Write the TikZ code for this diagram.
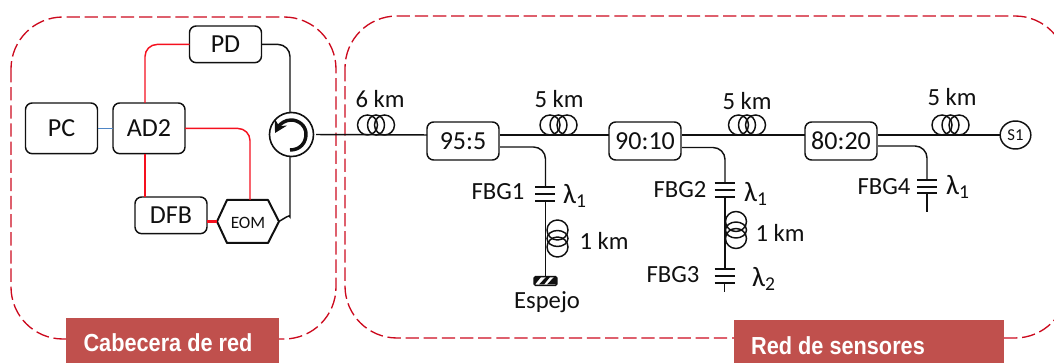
\documentclass[tikz,border=0pt]{standalone}
\usepackage{fontspec}
\setmainfont{Carlito}
\newfontfamily\labfont[FakeStretch=0.88]{Liberation Sans}
\usetikzlibrary{arrows.meta,shapes.geometric}
\definecolor{dashred}{HTML}{CC0A1E}
\definecolor{wirered}{HTML}{F5101E}
\definecolor{wireblue}{HTML}{4F86C6}
\definecolor{labelred}{HTML}{C0504D}
\definecolor{ink}{HTML}{101010}
\tikzset{
  x=0.75pt,y=-0.75pt,
  every node/.style={text=ink,inner sep=0pt,outer sep=0pt},
  devbox/.style={draw=ink,fill=white,line width=1.1pt,rounded corners=5pt,font=\fontsize{19.5}{22}\selectfont,anchor=north west},
  zone/.style={draw=dashred,line width=1pt,dash pattern=on 10pt off 3.6pt,rounded corners=39pt},
  zonelabel/.style={fill=labelred,draw=none},
  labeltext/.style={text=white,font=\labfont\bfseries\fontsize{18.5}{20}\selectfont},
  wire/.style={draw=ink,line width=1.1pt,rounded corners=9pt},
  rfwire/.style={draw=wirered,line width=1.1pt,rounded corners=9pt},
  rfthick/.style={draw=wirered,line width=1.9pt},
  lan/.style={draw=wireblue,line width=1.1pt},
  txt/.style={font=\fontsize{18.5}{21}\selectfont},
  lam/.style={font=\fontsize{21}{24}\selectfont},
  grating/.style={draw=ink,line width=1.1pt},
  coil/.style={draw=ink,line width=1.1pt},
}
\newcommand{\hcoil}[1]{%
  \draw[coil] (#1-8.5,125) ellipse (10 and 10);
  \draw[coil] (#1,125) ellipse (8.5 and 10);
  \draw[coil] (#1+8.5,125) ellipse (10 and 10);}
\newcommand{\vcoil}[2]{%
  \draw[coil] (#1,#2-8.5) ellipse (10.5 and 10);
  \draw[coil] (#1,#2) ellipse (10.5 and 8);
  \draw[coil] (#1,#2+8.5) ellipse (10.5 and 10);}
\newcommand{\fbg}[4]{%
  \draw[grating] (#1-10,#2) -- (#1+10,#2);
  \draw[grating] (#1-10,#3) -- (#1+10,#3);
  \draw[grating] (#1-10,#4) -- (#1+10,#4);}
\begin{document}
\begin{tikzpicture}
\useasboundingbox (0,0) rectangle (1054,363);
% zones
\draw[zone] (11,17) rectangle (336,339);
\draw[zone] (345,16) rectangle (1067,338);
\fill[zonelabel] (66,318) rectangle (279,363);
\fill[zonelabel] (734,320) rectangle (1004,363);
\node[labeltext] (lab1) at (168,343) {Cabecera de red};
\node[labeltext] (lab2) at (838,346) {Red de sensores};
% devices
\node[devbox,minimum width=54pt,minimum height=27.5pt] (PD) at (189.5,26) {PD};
\node[devbox,minimum width=54pt,minimum height=38pt] (PC) at (25.5,103) {PC};
\node[devbox,minimum width=54pt,minimum height=38pt] (AD) at (113,103) {AD2};
\node[devbox,minimum width=54pt,minimum height=27.5pt] (DFB) at (135,197) {DFB};
\node[draw=ink,fill=white,line width=1.2pt,circle,minimum size=33pt] (circ) at (291.5,134.5) {};
\draw[line width=2.6pt,draw=ink,-{Stealth[length=9pt,width=10pt]}]
  (290,150) .. controls (300,150) and (306,143) .. (306,134)
  .. controls (306,126) and (299,120) .. (291,120)
  .. controls (285,120) and (280,124) .. (275,133);
\coordinate (eomtop) at (250,200);
\coordinate (eomleft) at (217,221.5);
\coordinate (eomright) at (279,221.5);
\coordinate (dfbout) at (207,221.5);
\draw[draw=ink,fill=white,line width=1.5pt,line join=round] (eomleft) -- (227,200) -- (268,200) -- (eomright) -- (268,243) -- (227,243) -- cycle;
\node[font=\fontsize{13}{15}\selectfont] (EOM) at (248,222.5) {EOM};
% couplers
\node[devbox,minimum width=54pt,minimum height=28.5pt] (c95) at (427,122) {95:5};
\node[devbox,minimum width=54pt,minimum height=28.5pt] (c90) at (609,122) {90:10};
\node[devbox,minimum width=54pt,minimum height=28.5pt] (c80) at (805,122) {80:20};
\node[draw=ink,fill=white,line width=1.1pt,ellipse,minimum width=23pt,minimum height=21pt,font=\fontsize{12.5}{14}\selectfont] (S1) at (1015.5,135) {S1};
% ports
\coordinate (c95w) at (427,135);
\coordinate (c95e) at (500,135);
\coordinate (c95b) at (500,147);
\coordinate (c90w) at (609,135);
\coordinate (c90e) at (682,135);
\coordinate (c90b) at (682,147.5);
\coordinate (c80w) at (805,135);
\coordinate (c80e) at (878,135);
\coordinate (c80b) at (878,146);
\coordinate (circout) at (316,134.5);
% connectors
\draw[lan] (PC.east |- 0,128.5) -- (AD.west |- 0,128.5);
\draw[rfwire] (PD.west) -- (145,44.5) -- (145,103);
\draw[rfwire] (AD.east) -- (250,128.5) -- (eomtop);
\draw[rfthick] (145,154) -- (145,197);
\draw[rfthick] (dfbout) -- (eomleft);
\draw[wire] (PD.east) -- (290,44.5) -- (290,112.5);
\draw[wire] (290,156.5) -- (290,205) .. controls (290,214) and (285,218) .. (eomright);
\draw[wire] (circout) -- (c95w);
\draw[wire] (c95e) -- (c90w);
\draw[wire] (c90e) -- (c80w);
\draw[wire] (c80e) -- (S1.west);
% coils on main line
\hcoil{376}
\hcoil{558.5}
\hcoil{747}
\hcoil{950.5}
% branch 1
\coordinate (m1) at (545.5,276);
\draw[wire] (c95b) -- (545.5,147) -- (545.5,187);
\draw[wire] (545.5,201) -- (m1);
\fbg{545}{187}{194}{201}
\vcoil{557.5}{238.5}
\node[draw=ink,line width=1.1pt,fill=white,rounded corners=1pt,minimum width=17pt,minimum height=6.5pt] (mirror) at (545.5,281) {};
\fill[ink] (535,277) -- (541,277) -- (535,284.5) -- cycle;
\fill[ink] (539,284.5) -- (546,277) -- (550,277) -- (544,284.5) -- cycle;
\fill[ink] (547,284.5) -- (554,277) -- (556,277) -- (556,284.5) -- cycle;
% branch 2
\draw[wire] (c90b) -- (725,147.5) -- (725,183);
\draw[wire] (725,197) -- (725,269);
\fbg{724.5}{183}{190}{197}
\vcoil{736}{230}
\fbg{724.5}{269}{276}{283}
\draw[wire] (724.5,283) -- (724.5,292);
% branch 3
\draw[wire] (c80b) -- (927,146) -- (927,180);
\fbg{927}{180}{187}{193}
\draw[wire] (927,193) -- (927,212);
% labels
\node[txt] (t6) at (380,99) {6 km};
\node[txt] (t5a) at (559,99) {5 km};
\node[txt] (t5b) at (747,101) {5 km};
\node[txt] (t5c) at (952,97) {5 km};
\node[txt] (f1) at (498,192) {FBG1};
\node[txt] (f2) at (680,190) {FBG2};
\node[txt] (f3) at (673,275) {FBG3};
\node[txt] (f4) at (884,187) {FBG4};
\node[lam] (l1) at (575,196) {λ\textsubscript{1}};
\node[lam] (l2) at (756,194) {λ\textsubscript{1}};
\node[lam] (l3) at (764,279) {λ\textsubscript{2}};
\node[lam] (l4) at (958,187) {λ\textsubscript{1}};
\node[txt] (k1) at (604,241) {1 km};
\node[txt] (k2) at (780,233) {1 km};
\node[txt] (esp) at (547,302) {Espejo};
\end{tikzpicture}
\end{document}
